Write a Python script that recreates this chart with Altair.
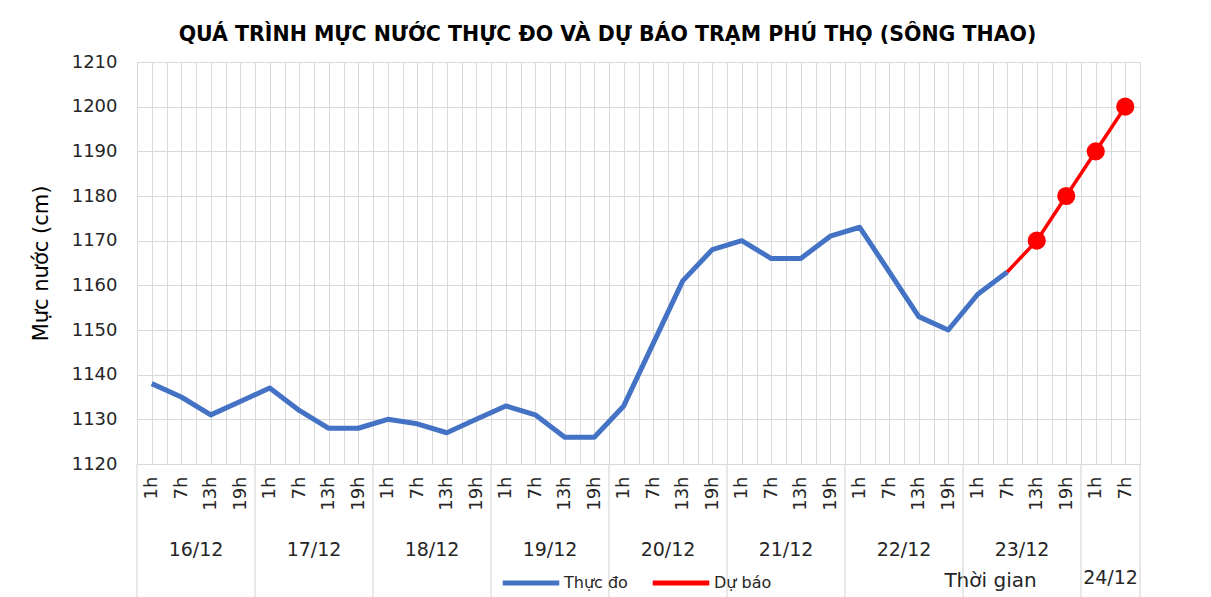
import altair as alt
import pandas as pd

# ---- data ----
days = ["16/12", "17/12", "18/12", "19/12", "20/12", "21/12", "22/12", "23/12", "24/12"]
hours = ["1h", "7h", "13h", "19h"]
n_slots = 34  # 8 full days + 2 slots of 24/12

observed = [1138, 1135, 1131, 1134,
            1137, 1132, 1128, 1128,
            1130, 1129, 1127, 1130,
            1133, 1131, 1126, 1126,
            1133, 1147, 1161, 1168,
            1170, 1166, 1166, 1171,
            1173, 1163, 1153, 1150,
            1158, 1163]
forecast = [1163, 1170, 1180, 1190, 1200]  # from 23/12 7h to 24/12 7h
forecast_start = 29

obs_name = "Thực đo"
fc_name = "Dự báo"
title_text = "QUÁ TRÌNH MỰC NƯỚC THỰC ĐO VÀ DỰ BÁO TRẠM PHÚ THỌ (SÔNG THAO)"

obs_df = pd.DataFrame({"i": list(range(len(observed))), "v": observed, "s": obs_name})
fc_df = pd.DataFrame({"i": list(range(forecast_start, forecast_start + len(forecast))),
                      "v": forecast, "s": fc_name})
mk_df = fc_df.iloc[1:]

day_centers = [4 * k + 1.5 for k in range(len(days) - 1)] + [32.5]
day_df = pd.DataFrame({"i": day_centers, "d": days})
bounds = [4 * k - 0.5 for k in range(len(days))] + [n_slots - 0.5]
bound_df = pd.DataFrame({"i": bounds})

FONT = "DejaVu Sans"
W, H = 1003, 402
GRID = "#d9d9d9"
TXT = "#262626"

# label expression built from the hours list
expr = "''"
for k in reversed(range(len(hours))):
    expr = "(datum.value % 4 == " + str(k) + " ? '" + hours[k] + "' : " + expr + ")"
label_expr = "datum.value % 1 != 0 ? '' : " + expr
xvals = [k / 2 - 0.5 for k in range(2 * n_slots + 1)]

xscale = alt.Scale(domain=[-0.5, n_slots - 0.5], nice=False, zero=False)
yscale = alt.Scale(domain=[1120, 1210], nice=False, zero=False)

x_axis = alt.Axis(
    values=xvals,
    labelExpr=label_expr,
    labelAngle=270, labelAlign="right", labelBaseline="middle",
    labelFont=FONT, labelFontSize=18, labelColor=TXT, labelPadding=12,
    labelOverlap=False, labelBound=False, labelFlush=False,
    ticks=False, domainColor=GRID, gridColor=GRID, gridWidth=1,
    title="Thời gian", titleFont=FONT, titleFontSize=20, titleFontWeight="normal",
    titleColor=TXT, titleX=853, titleY=116, titleAlign="center", titleBaseline="middle",
)
y_axis = alt.Axis(
    values=list(range(1120, 1211, 10)), format="d", labelFont=FONT, labelFontSize=18,
    labelColor=TXT, labelPadding=20, ticks=False, domain=False,
    gridColor=GRID, gridWidth=1.2,
    title="Mực nước (cm)", titleFont=FONT, titleFontSize=21, titleFontWeight="normal",
    titleColor="#000000", titlePadding=20,
)

color = alt.Color(
    "s:N",
    scale=alt.Scale(domain=[obs_name, fc_name], range=["#4472C4", "#FF0000"]),
    legend=alt.Legend(
        title=None, orient="none", legendX=363, legendY=490, direction="horizontal",
        symbolType="stroke", symbolStrokeWidth=5, symbolSize=3200,
        labelFont=FONT, labelFontSize=16, labelColor=TXT, labelOffset=2,
        columnPadding=14,
    ),
)

obs_line = alt.Chart(obs_df).mark_line(strokeWidth=5, strokeJoin="round", strokeCap="butt").encode(
    x=alt.X("i:Q", scale=xscale, axis=x_axis),
    y=alt.Y("v:Q", scale=yscale, axis=y_axis), color=color)
fc_line = alt.Chart(fc_df).mark_line(strokeWidth=3.5, strokeJoin="round").encode(
    x=alt.X("i:Q", scale=xscale, axis=x_axis), y=alt.Y("v:Q", scale=yscale, axis=y_axis), color=color)
fc_pts = alt.Chart(mk_df).mark_circle(size=330, opacity=1, color="#FF0000").encode(
    x=alt.X("i:Q", scale=xscale, axis=x_axis), y=alt.Y("v:Q", scale=yscale, axis=y_axis))

seps = alt.Chart(bound_df).mark_rule(color=GRID, strokeWidth=1.2).encode(
    x=alt.X("i:Q", scale=xscale, axis=x_axis), y=alt.value(H), y2=alt.value(H + 135))

day_lbl = alt.Chart(day_df.iloc[:-1]).mark_text(font=FONT, fontSize=19, color=TXT, baseline="middle").encode(
    x=alt.X("i:Q", scale=xscale, axis=x_axis), y=alt.value(488), text="d:N")
last_lbl = alt.Chart(day_df.iloc[-1:]).mark_text(font=FONT, fontSize=19, color=TXT, baseline="middle").encode(
    x=alt.X("i:Q", scale=xscale, axis=x_axis), y=alt.value(516), text="d:N")

chart = alt.layer(obs_line, seps, fc_line, fc_pts, day_lbl, last_lbl).properties(
    width=W, height=H,
    title=alt.TitleParams(title_text, font=FONT, fontSize=20.5, fontWeight="bold", color="#000000",
                          anchor="middle", dx=-31, offset=8),
    autosize=alt.AutoSizeParams(type="none"),
    padding={"left": 129, "top": 54, "right": 60, "bottom": 133},
).configure_view(stroke=None).configure(background="white")

chart.save("out.html", embed_options={"renderer": "svg", "actions": False})
